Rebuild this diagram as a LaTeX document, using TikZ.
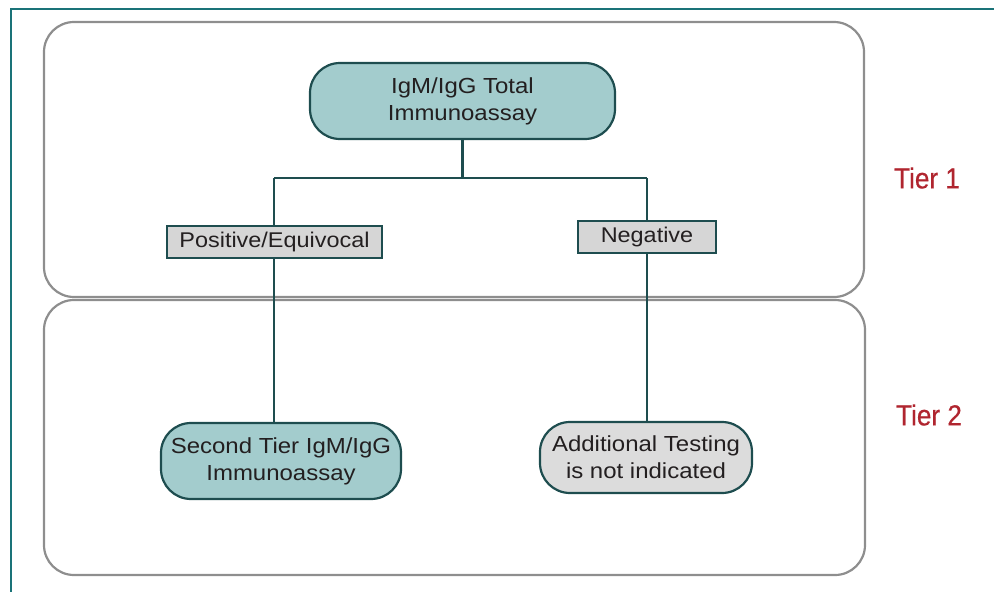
\documentclass[tikz,border=0pt]{standalone}
\usepackage{fontspec}
\setmainfont{Liberation Sans}[FakeStretch=1.1]
\newfontfamily\tierfont{Liberation Sans}[FakeBold=0.6]
\begin{document}
\begin{tikzpicture}[x=1pt,y=-1pt,
  tierbox/.style={draw=tiergrey,line width=2.2pt,rounded corners=30pt},
  tealnode/.style={draw=darkteal,fill=lightteal,line width=2.2pt,rounded corners=30pt,align=center,font=\fontsize{21.8}{27}\selectfont,text=textc,inner sep=0pt},
  greynode/.style={draw=darkteal,fill=lightgreyf,line width=2.2pt,rounded corners=30pt,align=center,font=\fontsize{21.8}{27}\selectfont,text=textc,inner sep=0pt},
  labelbox/.style={draw=darkteal,fill=labelgrey,line width=2.2pt,align=center,font=\fontsize{21.3}{24}\selectfont,text=textc,inner sep=0pt},
  conn/.style={draw=darkteal,line width=2.2pt},
  tiertext/.style={text=tierred,font=\tierfont\fontsize{29}{34}\selectfont}]
\definecolor{tiergrey}{HTML}{8E8E8E}
\definecolor{darkteal}{HTML}{1E4D4F}
\definecolor{lightteal}{HTML}{A3CCCD}
\definecolor{lightgreyf}{HTML}{DCDCDC}
\definecolor{labelgrey}{HTML}{D6D6D6}
\definecolor{textc}{HTML}{231F20}
\definecolor{tierred}{HTML}{B0252F}
\definecolor{frameteal}{HTML}{1A7378}
\useasboundingbox (0,0) rectangle (994,592);
% frame
\draw[frameteal,line width=2.5pt] (10,9) -- (994,9);
\draw[frameteal,line width=2.5pt] (11,9) -- (11,592);
% tier boxes
\draw[tierbox] (44,22) rectangle (864,297);
\draw[tierbox] (44,300) rectangle (865,575);
% nodes
\node[tealnode,minimum width=305pt,minimum height=76pt] (top) at (462.5,101) {IgM/IgG Total\\Immunoassay};
\node[labelbox,minimum width=215pt,minimum height=32pt] (pos) at (274.5,242) {Positive/Equivocal};
\node[labelbox,minimum width=138pt,minimum height=32pt] (neg) at (647,237) {Negative};
\node[tealnode,minimum width=240pt,minimum height=76pt] (sec) at (281,461) {Second Tier IgM/IgG\\Immunoassay};
\node[greynode,minimum width=212pt,minimum height=71pt] (add) at (646,457.5) {Additional Testing\\is not indicated};
\coordinate (jl) at (274,178);
\coordinate (jr) at (647,178);
% connectors
\draw[conn] (top.south) -- (top.south |- jl);
\draw[conn] (jl) -- (jr);
\draw[conn] (jl) -- (jl |- pos.north);
\draw[conn] (jr) -- (neg.north);
\draw[conn] (jl |- pos.south) -- (jl |- sec.north);
\draw[conn] (neg.south) -- (neg.south |- add.north);
% tier labels
\node[tiertext,xscale=0.9] (t1) at (927,178) {Tier 1};
\node[tiertext,xscale=0.9] (t2) at (929,415) {Tier 2};
\end{tikzpicture}
\end{document}
